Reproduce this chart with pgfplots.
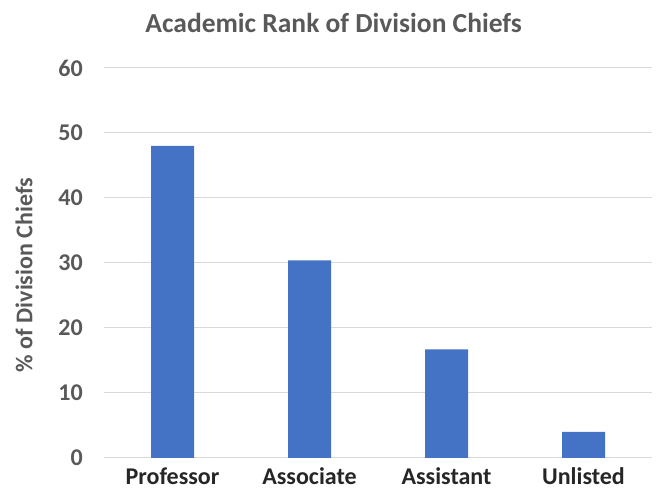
\documentclass[border=0pt]{standalone}
\usepackage{pgfplots}
\pgfplotsset{compat=1.18}
\usepackage{fontspec}
\setmainfont{Carlito}
\definecolor{barblue}{HTML}{4472C4}
\definecolor{txtgray}{HTML}{595959}
\definecolor{gridgray}{HTML}{D9D9D9}
\begin{document}
\begin{tikzpicture}[x=1pt,y=1pt]
\path[use as bounding box] (0,0) rectangle (662,490);
\begin{axis}[
  at={(104pt,32pt)}, anchor=south west,
  scale only axis, width=548pt, height=390pt,
  xmin=-0.5, xmax=3.5, ymin=0, ymax=60,
  ytick={0,10,...,60},
  xtick=data,
  xticklabels={Professor,Associate,Assistant,Unlisted},
  axis line style={draw=none},
  major tick length=0pt,
  ymajorgrids, grid style={gridgray, line width=1pt},
  ybar, bar width=43pt,
  /pgf/number format/assume math mode=true,
  tick label style={font=\bfseries\fontsize{24}{28}\selectfont, text=txtgray, inner sep=0pt},
  xticklabel style={anchor=base, yshift=-27pt, text=black!85},
  yticklabel style={anchor=east, xshift=-21pt},
  ylabel={\% of Division Chiefs},
  ylabel style={font=\bfseries\fontsize{24}{28}\selectfont, text=txtgray, at={(axis description cs:-0.146,0.469)}, anchor=center},
  every axis title shift=0pt,
  title={Academic Rank of Division Chiefs},
  title style={font=\bfseries\fontsize{27.5}{32}\selectfont, text=txtgray, at={(0.419,1.090)}, anchor=base},
]
\addplot[fill=barblue, draw=none] coordinates {(0,48.0) (1,30.4) (2,16.7) (3,4.0)};
\end{axis}
\end{tikzpicture}
\end{document}
